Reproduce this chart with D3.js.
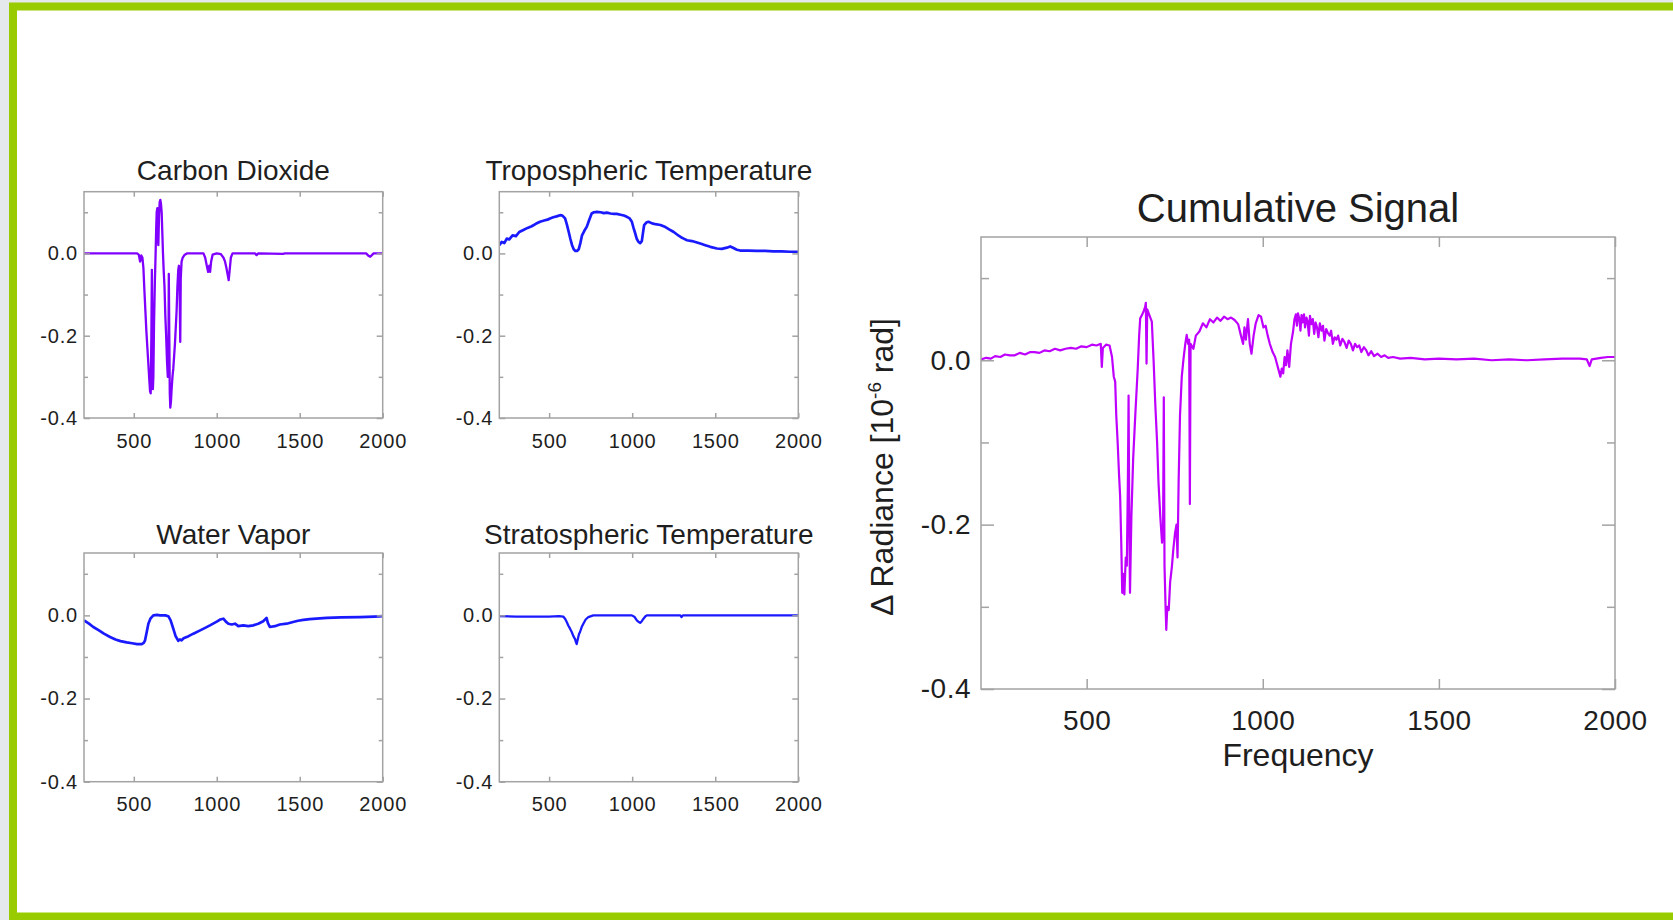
<!DOCTYPE html>
<html>
<head>
<meta charset="utf-8">
<script src="https://cdn.jsdelivr.net/npm/d3@7"></script>
<style>
  html, body { margin: 0; padding: 0; background: #e6e9eb; }
  svg { display: block; font-family: "Liberation Sans", Arial, sans-serif; }
</style>
</head>
<body>
<svg id="chart" width="1673" height="920"></svg>
<script>
// spectra: [frequency, delta radiance]
const co2 = [[200,0],[400,0],[520,0],[530,-0.003],[538,-0.02],[545,-0.005],[552,-0.01],[558,-0.035],[564,-0.09],[570,-0.14],[576,-0.19],[582,-0.23],[588,-0.27],[594,-0.31],[598,-0.335],[602,-0.34],[606,-0.2],[609,-0.04],[612,-0.2],[615,-0.33],[618,-0.3],[622,-0.17],[627,-0.07],[631,-0.01],[635,0.06],[638,0.1],[642,0.11],[645,0.04],[648,0.02],[652,0.09],[656,0.125],[660,0.13],[664,0.12],[668,0.1],[672,0.05],[676,0],[680,-0.04],[685,-0.08],[690,-0.15],[695,-0.2],[700,-0.26],[705,-0.3],[709,-0.25],[711,-0.05],[714,-0.2],[717,-0.34],[720,-0.375],[724,-0.36],[728,-0.33],[733,-0.3],[738,-0.28],[743,-0.25],[748,-0.22],[753,-0.18],[758,-0.14],[763,-0.08],[768,-0.04],[772,-0.03],[776,-0.08],[780,-0.215],[783,-0.06],[788,-0.02],[795,-0.01],[805,-0.004],[820,0],[920,0],[930,-0.01],[940,-0.03],[948,-0.045],[955,-0.03],[960,-0.045],[966,-0.02],[975,-0.003],[1000,0],[1025,-0.002],[1040,-0.01],[1050,-0.02],[1058,-0.035],[1065,-0.05],[1072,-0.065],[1078,-0.04],[1085,-0.01],[1095,0],[1230,0],[1240,-0.004],[1250,0],[1400,-0.001],[1410,0],[1900,0],[1915,-0.006],[1925,-0.008],[1935,-0.004],[1945,0],[2000,0]];

const tropTemp = [[200,0.02],[215,0.028],[230,0.025],[245,0.036],[260,0.034],[280,0.044],[300,0.042],[320,0.052],[345,0.057],[370,0.062],[395,0.066],[420,0.072],[445,0.077],[470,0.08],[490,0.082],[505,0.085],[525,0.088],[545,0.09],[566,0.093],[580,0.092],[596,0.085],[607,0.07],[618,0.052],[628,0.035],[638,0.02],[648,0.01],[658,0.006],[668,0.006],[678,0.01],[688,0.025],[698,0.044],[712,0.055],[727,0.065],[740,0.08],[756,0.097],[770,0.1],[787,0.101],[810,0.1],[830,0.098],[847,0.099],[870,0.097],[890,0.096],[907,0.096],[930,0.094],[950,0.092],[968,0.089],[985,0.085],[998,0.077],[1008,0.062],[1018,0.049],[1028,0.035],[1038,0.028],[1048,0.025],[1058,0.03],[1065,0.05],[1072,0.069],[1085,0.075],[1098,0.077],[1120,0.073],[1140,0.071],[1170,0.069],[1200,0.064],[1225,0.058],[1250,0.052],[1280,0.043],[1300,0.038],[1310,0.036],[1330,0.032],[1360,0.03],[1385,0.027],[1410,0.024],[1440,0.02],[1470,0.016],[1510,0.012],[1540,0.011],[1570,0.014],[1590,0.017],[1610,0.013],[1630,0.009],[1650,0.007],[1700,0.007],[1751,0.006],[1800,0.006],[1851,0.005],[1900,0.005],[1950,0.004],[2000,0.004]];

const waterVapor = [[200,-0.012],[230,-0.02],[256,-0.028],[290,-0.036],[320,-0.044],[357,-0.052],[390,-0.058],[420,-0.062],[457,-0.065],[490,-0.067],[520,-0.069],[548,-0.069],[560,-0.066],[568,-0.06],[578,-0.04],[588,-0.02],[600,-0.008],[618,0],[640,0.001],[658,0],[690,0],[708,-0.002],[722,-0.012],[738,-0.032],[752,-0.05],[768,-0.061],[778,-0.058],[788,-0.06],[800,-0.055],[830,-0.05],[859,-0.044],[900,-0.036],[930,-0.03],[959,-0.024],[1000,-0.015],[1020,-0.01],[1040,-0.008],[1055,-0.015],[1070,-0.02],[1090,-0.022],[1110,-0.02],[1130,-0.026],[1160,-0.024],[1190,-0.026],[1220,-0.024],[1250,-0.02],[1280,-0.014],[1300,-0.006],[1308,-0.018],[1320,-0.028],[1350,-0.026],[1380,-0.022],[1421,-0.02],[1460,-0.016],[1490,-0.013],[1522,-0.011],[1560,-0.009],[1600,-0.008],[1663,-0.006],[1750,-0.005],[1863,-0.004],[1950,-0.003],[2000,-0.002]];

const stratTemp = [[200,-0.002],[300,-0.003],[400,-0.003],[500,-0.003],[560,-0.002],[585,-0.003],[596,-0.008],[606,-0.016],[616,-0.025],[626,-0.032],[636,-0.04],[646,-0.05],[656,-0.057],[662,-0.065],[666,-0.069],[672,-0.058],[680,-0.045],[686,-0.04],[696,-0.028],[706,-0.02],[720,-0.01],[736,-0.004],[766,0],[900,0],[998,0],[1015,-0.004],[1028,-0.012],[1040,-0.016],[1048,-0.018],[1058,-0.014],[1068,-0.008],[1080,-0.002],[1088,0],[1290,0],[1297,-0.004],[1305,0],[2000,0]];

const cumulative = [[200,0.001],[215,0.003],[228,0.002],[240,0.005],[255,0.004],[268,0.007],[282,0.006],[296,0.006],[310,0.009],[325,0.007],[340,0.01],[352,0.01],[366,0.009],[380,0.012],[395,0.011],[410,0.014],[425,0.012],[440,0.014],[455,0.015],[470,0.014],[485,0.017],[500,0.016],[515,0.019],[528,0.018],[540,0.02],[543,-0.008],[546,0.015],[555,0.019],[565,0.018],[572,0.004],[577,-0.02],[581,-0.026],[584,-0.067],[588,-0.1],[592,-0.14],[595,-0.165],[598,-0.218],[601,-0.283],[604,-0.26],[607,-0.285],[611,-0.24],[614,-0.25],[617,-0.15],[619,-0.043],[621,-0.2],[623,-0.283],[627,-0.19],[632,-0.12],[638,-0.067],[645,-0.01],[649,0.03],[652,0.051],[657,0.055],[662,0.06],[666,0.065],[668,0.07],[670,-0.004],[672,0.062],[678,0.055],[685,0.047],[690,0],[695,-0.055],[700,-0.1],[704,-0.149],[709,-0.19],[714,-0.222],[717,-0.2],[719,-0.045],[721,-0.25],[724,-0.3],[726,-0.328],[729,-0.3],[733,-0.304],[737,-0.27],[742,-0.251],[746,-0.23],[751,-0.21],[755,-0.2],[758,-0.24],[761,-0.15],[765,-0.067],[770,-0.02],[775,0.002],[780,0.02],[784,0.031],[788,0.02],[791,0.025],[793,-0.175],[795,0.02],[803,0.014],[810,0.03],[820,0.035],[830,0.045],[840,0.04],[850,0.05],[860,0.046],[870,0.052],[880,0.048],[890,0.053],[900,0.05],[910,0.052],[920,0.049],[930,0.044],[938,0.03],[944,0.02],[948,0.04],[952,0.025],[958,0.05],[963,0.02],[968,0.008],[974,0.03],[980,0.045],[988,0.055],[995,0.053],[1002,0.04],[1008,0.042],[1014,0.03],[1020,0.02],[1028,0.01],[1035,0.004],[1040,-0.004],[1045,-0.012],[1050,-0.02],[1054,-0.01],[1058,-0.016],[1062,0.004],[1066,-0.006],[1070,0.012],[1075,-0.008],[1080,0.02],[1086,0.035],[1090,0.05],[1094,0.056],[1097,0.042],[1100,0.057],[1104,0.05],[1107,0.036],[1110,0.055],[1113,0.046],[1117,0.056],[1120,0.04],[1124,0.052],[1127,0.048],[1131,0.03],[1134,0.054],[1138,0.044],[1142,0.05],[1146,0.032],[1150,0.046],[1154,0.04],[1158,0.028],[1162,0.045],[1167,0.036],[1171,0.042],[1175,0.024],[1180,0.038],[1185,0.033],[1190,0.03],[1194,0.036],[1199,0.02],[1204,0.028],[1209,0.025],[1214,0.03],[1220,0.018],[1226,0.026],[1232,0.022],[1238,0.015],[1244,0.024],[1250,0.02],[1256,0.012],[1262,0.02],[1268,0.016],[1274,0.018],[1280,0.01],[1287,0.016],[1294,0.012],[1300,0.006],[1308,0.011],[1316,0.005],[1326,0.008],[1336,0.004],[1346,0.006],[1356,0.003],[1370,0.004],[1390,0.002],[1420,0.003],[1460,0.001],[1500,0.002],[1550,0.001],[1600,0.002],[1650,0],[1700,0.001],[1750,0],[1800,0.001],[1850,0.002],[1900,0.002],[1920,0.001],[1928,-0.007],[1934,0.001],[1960,0.003],[1980,0.004],[2000,0.004]];

const xTicks = [500, 1000, 1500, 2000];
const yLabelTicks = [0, -0.2, -0.4];
const yMinorTicks = [0.1, -0.1, -0.3];
const xDomain = [200, 2000];
const yDomain = [-0.4, 0.15];

const frameColor = "#a3a3a3";
const textColor = "#1e1e1e";

const svg = d3.select("#chart");

// page card with green border
svg.append("rect")
  .attr("x", 13).attr("y", 6.5)
  .attr("width", 1700).attr("height", 910)
  .attr("fill", "#fff")
  .attr("stroke", "#99cc00")
  .attr("stroke-width", 8);

const fmt = d => d.toFixed(1);

function drawPanel(cfg, i) {
  const x = d3.scaleLinear().domain(xDomain).range([cfg.left, cfg.left + cfg.width]);
  const y = d3.scaleLinear().domain(yDomain).range([cfg.top + cfg.height, cfg.top]);
  const g = svg.append("g");

  g.append("clipPath").attr("id", "clip" + i)
    .append("rect")
    .attr("x", cfg.left).attr("y", cfg.top)
    .attr("width", cfg.width).attr("height", cfg.height);

  g.append("path")
    .datum(cfg.data)
    .attr("clip-path", `url(#clip${i})`)
    .attr("fill", "none")
    .attr("stroke", cfg.color)
    .attr("stroke-width", cfg.lineWidth)
    .attr("stroke-linejoin", "round")
    .attr("d", d3.line().x(d => x(d[0])).y(d => y(d[1])));

  g.append("rect")
    .attr("x", cfg.left).attr("y", cfg.top)
    .attr("width", cfg.width).attr("height", cfg.height)
    .attr("fill", "none")
    .attr("stroke", frameColor)
    .attr("stroke-width", 1.5);

  const bottom = g.append("g")
    .attr("transform", `translate(0,${cfg.top + cfg.height})`)
    .call(d3.axisBottom(x).tickValues(xTicks).tickSizeInner(-cfg.xTick).tickSizeOuter(0)
      .tickPadding(cfg.xPad).tickFormat(d3.format("d")));

  const top = g.append("g")
    .attr("transform", `translate(0,${cfg.top})`)
    .call(d3.axisTop(x).tickValues(xTicks).tickSizeInner(-cfg.xTick).tickSizeOuter(0).tickFormat(""));

  const left = g.append("g")
    .attr("transform", `translate(${cfg.left},0)`)
    .call(d3.axisLeft(y).tickValues(yLabelTicks).tickSizeInner(-cfg.majorTick).tickSizeOuter(0)
      .tickPadding(cfg.yPad).tickFormat(fmt));

  const leftMinor = g.append("g")
    .attr("transform", `translate(${cfg.left},0)`)
    .call(d3.axisLeft(y).tickValues(yMinorTicks).tickSizeInner(-cfg.minorTick).tickSizeOuter(0).tickFormat(""));

  const right = g.append("g")
    .attr("transform", `translate(${cfg.left + cfg.width},0)`)
    .call(d3.axisRight(y).tickValues(yLabelTicks).tickSizeInner(-cfg.majorTick).tickSizeOuter(0).tickFormat(""));

  const rightMinor = g.append("g")
    .attr("transform", `translate(${cfg.left + cfg.width},0)`)
    .call(d3.axisRight(y).tickValues(yMinorTicks).tickSizeInner(-cfg.minorTick).tickSizeOuter(0).tickFormat(""));

  [bottom, top, left, leftMinor, right, rightMinor].forEach(a => {
    a.select(".domain").remove();
    a.selectAll("line").attr("stroke", frameColor).attr("stroke-width", 1.5);
    a.selectAll("text")
      .attr("fill", textColor)
      .attr("font-family", "'Liberation Sans', Arial, sans-serif")
      .attr("font-size", cfg.tickFont)
      .attr("letter-spacing", cfg.tickSpacing);
  });

  g.append("text")
    .attr("x", cfg.left + cfg.width / 2)
    .attr("y", cfg.top - cfg.titleGap)
    .attr("text-anchor", "middle")
    .attr("font-size", cfg.titleFont)
    .attr("fill", textColor)
    .text(cfg.title);

  return { x, y, g };
}

const small = { xTick: 5, majorTick: 6, minorTick: 4, xPad: 15.5, yPad: 6, tickFont: 20, tickSpacing: 0.8, titleFont: 28, lineWidth: 2.7 };
const big = { xTick: 10, majorTick: 13, minorTick: 8, xPad: 21.5, yPad: 10, tickFont: 28, tickSpacing: 0.5, titleFont: 40, lineWidth: 2.2 };

const panels = [
  Object.assign({}, small, { title: "Carbon Dioxide", left: 84, top: 191.7, width: 298.7, height: 226.3, data: co2, color: "#8000ff", titleGap: 11.7, lineWidth: 2.3 }),
  Object.assign({}, small, { title: "Tropospheric Temperature", left: 499.3, top: 191.7, width: 299, height: 226.3, data: tropTemp, color: "#1a1aff", titleGap: 11.7 }),
  Object.assign({}, small, { title: "Water Vapor", left: 84, top: 553, width: 298.7, height: 228.7, data: waterVapor, color: "#1a1aff", titleGap: 9.5 }),
  Object.assign({}, small, { title: "Stratospheric Temperature", left: 499.3, top: 553, width: 299, height: 228.7, data: stratTemp, color: "#1a1aff", titleGap: 9.5, lineWidth: 2.3 }),
  Object.assign({}, big, { title: "Cumulative Signal", left: 981, top: 237, width: 634, height: 452, data: cumulative, color: "#bf00ff", titleGap: 15.3 })
];

panels.forEach((p, i) => drawPanel(p, i));

// axis titles for the big panel
const bigP = panels[4];
svg.append("text")
  .attr("x", bigP.left + bigP.width / 2)
  .attr("y", 766)
  .attr("text-anchor", "middle")
  .attr("font-size", 32)
  .attr("fill", textColor)
  .text("Frequency");

const yTitle = svg.append("text")
  .attr("transform", `translate(893,${bigP.top + bigP.height / 2 + 4}) rotate(-90)`)
  .attr("text-anchor", "middle")
  .attr("font-size", 32)
  .attr("fill", textColor);
yTitle.append("tspan").text("\u0394 Radiance [10");
yTitle.append("tspan").attr("dy", -12).attr("font-size", 19).text("-6");
yTitle.append("tspan").attr("dy", 12).text(" rad]");
</script>
</body>
</html>
